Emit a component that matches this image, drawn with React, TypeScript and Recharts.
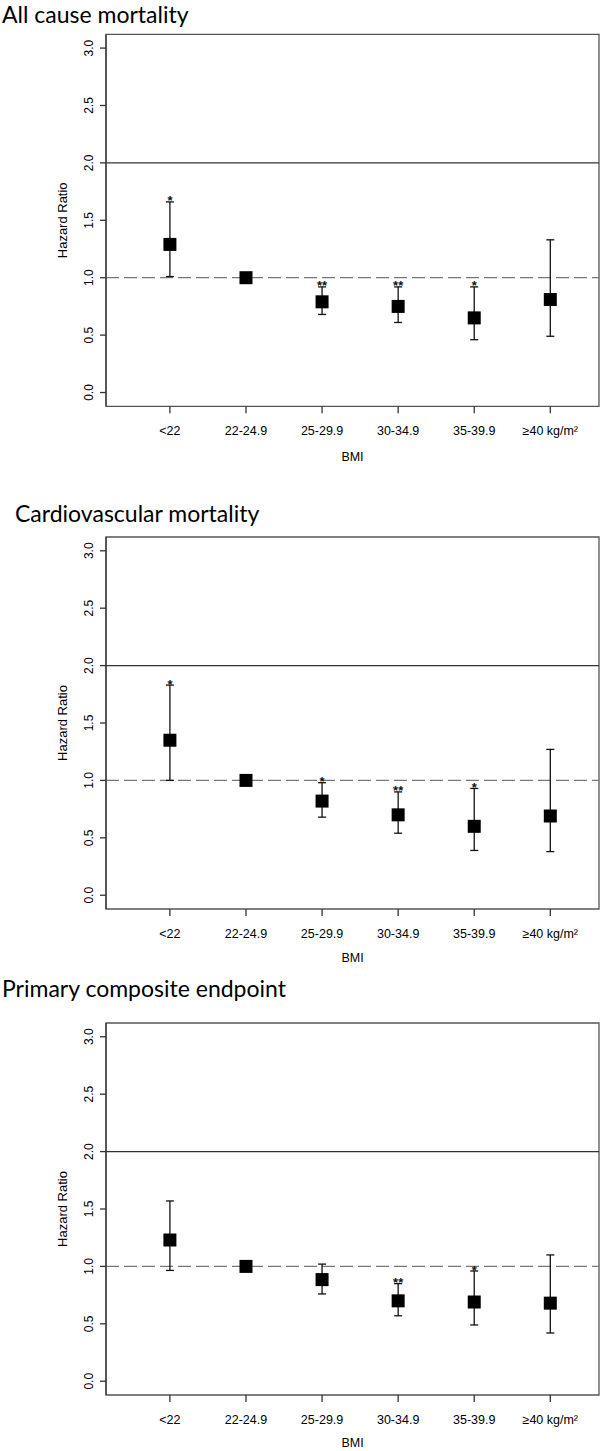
import React from "react";
import {
  ComposedChart,
  Scatter,
  XAxis,
  YAxis,
  ReferenceLine,
  ReferenceArea,
  ErrorBar,
} from "recharts";

const CATEGORIES = ["<22", "22-24.9", "25-29.9", "30-34.9", "35-39.9", "≥40 kg/m²"];
const X_POS = [1, 2, 3, 4, 5, 6];
const Y_TICKS = [0, 0.5, 1, 1.5, 2, 2.5, 3];

// All cause mortality
const ALL_HR = [1.29, 1.0, 0.79, 0.75, 0.65, 0.81];
const ALL_LO = [1.01, 1.0, 0.68, 0.61, 0.46, 0.49];
const ALL_HI = [1.66, 1.0, 0.92, 0.92, 0.92, 1.33];
const ALL_SIG = ["*", "", "**", "**", "*", ""];

// Cardiovascular mortality
const CV_HR = [1.35, 1.0, 0.82, 0.7, 0.6, 0.69];
const CV_LO = [1.0, 1.0, 0.68, 0.54, 0.39, 0.38];
const CV_HI = [1.83, 1.0, 0.98, 0.9, 0.93, 1.27];
const CV_SIG = ["*", "", "*", "**", "*", ""];

// Primary composite endpoint
const PC_HR = [1.23, 1.0, 0.885, 0.7, 0.69, 0.68];
const PC_LO = [0.965, 1.0, 0.76, 0.57, 0.49, 0.42];
const PC_HI = [1.57, 1.0, 1.02, 0.85, 0.96, 1.1];
const PC_SIG = ["", "", "", "**", "*", ""];

const X_DOMAIN = [0.16, 6.64];
const Y_DOMAIN = [-0.12, 3.12];
const AXIS_FONT = "'Liberation Sans', Arial, sans-serif";
const TITLE_FONT = "Lato, 'Open Sans', sans-serif";

function Square(props: any) {
  const { cx, cy } = props;
  return <rect x={cx - 6.5} y={cy - 6.5} width={13} height={13} fill="#000" />;
}

function Star(props: any) {
  const { cx, cy, payload } = props;
  return (
    <text x={cx} y={cy + 3.5} textAnchor="middle" fontSize={13} fontWeight="bold" fontFamily={AXIS_FONT} fill="#111">
      {payload.s}
    </text>
  );
}

function YTick(props: any) {
  const { x, y, payload } = props;
  return (
    <g transform={`translate(${x},${y}) rotate(-90)`}>
      <text textAnchor="middle" fontSize={12} fontFamily={AXIS_FONT} fill="#000">
        {Number(payload.value).toFixed(1)}
      </text>
    </g>
  );
}

function XTick(props: any) {
  const { x, y, payload } = props;
  return (
    <text x={x} y={y + 21.5} textAnchor="middle" fontSize={12.5} fontFamily={AXIS_FONT} fill="#000">
      {CATEGORIES[payload.value - 1]}
    </text>
  );
}

function YLabel(props: any) {
  const vb = props.viewBox || { x: 0, y: 0, width: 0, height: 0 };
  const cy = vb.y + vb.height / 2;
  return (
    <g transform={`translate(66.5,${cy}) rotate(-90)`}>
      <text textAnchor="middle" fontSize={13} fontFamily={AXIS_FONT} fill="#000">
        Hazard Ratio
      </text>
    </g>
  );
}

function XLabel(props: any) {
  const vb = props.viewBox || { x: 0, y: 0, width: 0, height: 0 };
  const offset = props.offsetY ?? 55;
  return (
    <text x={vb.x + vb.width / 2} y={vb.y + offset} textAnchor="middle" fontSize={12.5} fontFamily={AXIS_FONT} fill="#000">
      BMI
    </text>
  );
}

interface PanelProps {
  top: number;
  marginTop: number;
  xAxisHeight: number;
  labelOffset: number;
  hr: number[];
  lo: number[];
  hi: number[];
  sig: string[];
}

function Panel({ top, marginTop, xAxisHeight, labelOffset, hr, lo, hi, sig }: PanelProps) {
  const points = X_POS.map((x, i) => ({ x, y: hr[i], err: [hr[i] - lo[i], hi[i] - hr[i]] }));
  const stars = X_POS.map((x, i) => ({ x, y: hi[i], s: sig[i] })).filter((d) => d.s !== "");
  const plotHeight = 372;
  const height = marginTop + plotHeight + xAxisHeight;

  return (
    <div style={{ position: "absolute", left: 0, top, width: 600, height }}>
      <ComposedChart width={600} height={height} margin={{ top: marginTop, right: 1, bottom: 0, left: 0 }}>
        <XAxis
          type="number"
          dataKey="x"
          domain={X_DOMAIN}
          ticks={X_POS}
          allowDataOverflow
          height={xAxisHeight}
          axisLine={false}
          tickSize={7}
          tickMargin={0}
          tickLine={{ stroke: "#333", strokeWidth: 1.3 }}
          tick={<XTick />}
          label={<XLabel offsetY={labelOffset} />}
        />
        <YAxis
          type="number"
          dataKey="y"
          domain={Y_DOMAIN}
          ticks={Y_TICKS}
          allowDataOverflow
          width={106}
          axisLine={{ stroke: "#444", strokeWidth: 1.5 }}
          tickSize={6}
          tickMargin={7}
          tickLine={{ stroke: "#333", strokeWidth: 1.3 }}
          tick={<YTick />}
          label={<YLabel />}
        />
        <ReferenceArea
          x1={X_DOMAIN[0]}
          x2={X_DOMAIN[1]}
          y1={Y_DOMAIN[0]}
          y2={Y_DOMAIN[1]}
          fill="none"
          stroke="#555"
          strokeWidth={1.3}
          fillOpacity={0}
        />
        <ReferenceLine y={2} stroke="#333" strokeWidth={1.3} />
        <ReferenceLine y={1} stroke="#777" strokeWidth={1.2} strokeDasharray="13 5" />
        <Scatter data={points} shape={<Square />} isAnimationActive={false}>
          <ErrorBar dataKey="err" direction="y" width={4} stroke="#111" strokeWidth={1.3} />
        </Scatter>
        <Scatter data={stars} shape={<Star />} isAnimationActive={false} />
      </ComposedChart>
    </div>
  );
}

function Title({ text, x, baseline }: { text: string; x: number; baseline: number }) {
  const top = Math.max(0, baseline - 24);
  return (
    <svg style={{ position: "absolute", left: 0, top }} width={600} height={34}>
      <text x={x} y={baseline - top} fontSize={23} fontFamily={TITLE_FONT} fill="#000">
        {text}
      </text>
    </svg>
  );
}

export default function App() {
  return (
    <div
      style={{
        position: "absolute",
        left: 0,
        top: 0,
        width: 600,
        height: 1451,
        background: "#fff",
        overflow: "hidden",
      }}
    >
      <Panel top={0} marginTop={34.3} xAxisHeight={64} labelOffset={55} hr={ALL_HR} lo={ALL_LO} hi={ALL_HI} sig={ALL_SIG} />
      <Panel top={500} marginTop={37} xAxisHeight={64} labelOffset={53} hr={CV_HR} lo={CV_LO} hi={CV_HI} sig={CV_SIG} />
      <Panel top={990} marginTop={33} xAxisHeight={56} labelOffset={52} hr={PC_HR} lo={PC_LO} hi={PC_HI} sig={PC_SIG} />
      <Title text="All cause mortality" x={2} baseline={23} />
      <Title text="Cardiovascular mortality" x={15} baseline={522} />
      <Title text="Primary composite endpoint" x={2} baseline={997} />
    </div>
  );
}
